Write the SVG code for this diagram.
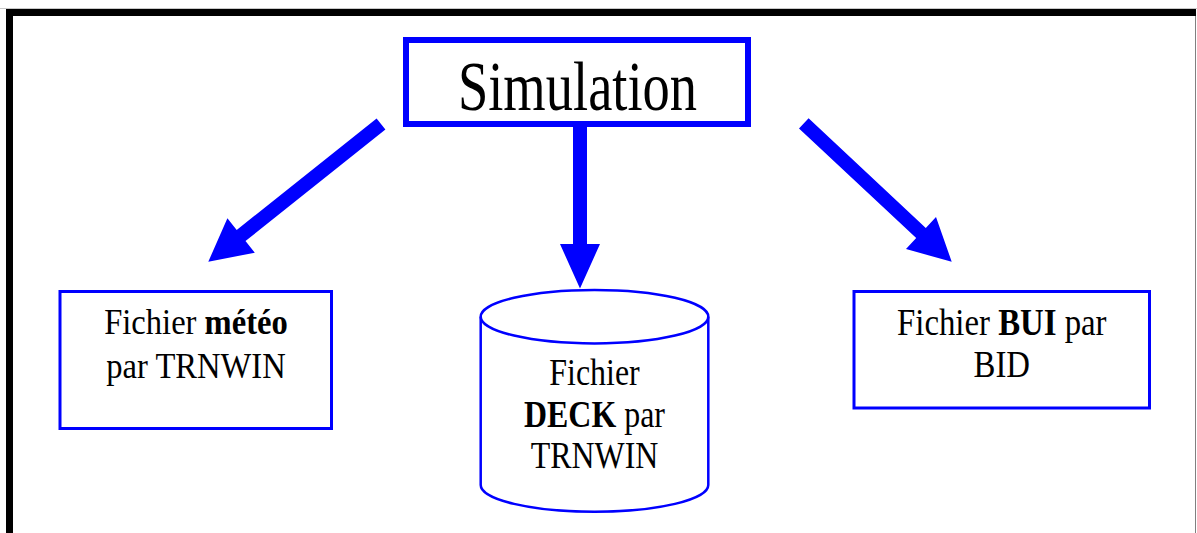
<svg xmlns="http://www.w3.org/2000/svg" width="1197" height="533" viewBox="0 0 1197 533">
<style>
.box{fill:#fff;stroke:#0000ff;stroke-width:3}
.arrow{fill:#0000ff;stroke:none}
text{font-family:"Liberation Serif","Times New Roman",serif;fill:#000;text-anchor:middle}
.b{font-weight:bold}
</style>
<rect width="1197" height="533" fill="#fff"/>
<g id="frame">
<line x1="0" y1="8.5" x2="1197" y2="8.5" stroke="#c8c8c8" stroke-width="1"/>
<path d="M9.5,533 V12.5 H1196" fill="none" stroke="#000" stroke-width="7"/>
<line x1="1195.5" y1="16" x2="1195.5" y2="533" stroke="#808080" stroke-width="1"/>
</g>
<g id="connectors">
<polygon class="arrow" points="376.6,118.5 385.4,129.5 245.5,241.0 254.8,252.7 208.3,261.7 227.4,218.3 236.7,230.0"/>
<polygon class="arrow" points="573,126 587,126 587,244 600,244 580,288.5 560,244 573,244"/>
<polygon class="arrow" points="808.6,118.2 799.0,128.4 916.2,238.1 906.0,249.1 951.7,261.7 936.0,216.9 925.8,227.9"/>
</g>
<g id="simulation">
<rect x="406" y="40" width="342" height="84" fill="#fff" stroke="#0000ff" stroke-width="6"/>
<text transform="translate(577.5,0) scale(0.79,1)" x="0" y="110.5" font-size="69">Simulation</text>
</g>
<g id="meteo">
<rect class="box" x="60" y="291.5" width="271.5" height="137"/>
<text transform="translate(196,0) scale(0.905,1)" font-size="36"><tspan x="0" y="334">Fichier <tspan class="b">météo</tspan></tspan><tspan x="0" y="378.3">par TRNWIN</tspan></text>
</g>
<g id="deck">
<path d="M480.7,316.7 V485 A113.8,26.7 0 0 0 708.3,485 V316.7" fill="#fff" stroke="#0000ff" stroke-width="2.5"/>
<ellipse cx="594.5" cy="316.7" rx="113.8" ry="26.7" fill="#fff" stroke="#0000ff" stroke-width="2.5"/>
<text transform="translate(594.5,0) scale(0.84,1)" font-size="38"><tspan x="0" y="385">Fichier</tspan><tspan x="0" y="426.7"><tspan class="b">DECK</tspan> par</tspan><tspan x="0" y="468.3">TRNWIN</tspan></text>
</g>
<g id="bui">
<rect class="box" x="854" y="291.5" width="295.5" height="116.5"/>
<text transform="translate(1001.8,0) scale(0.875,1)" font-size="37.5"><tspan x="0" y="335">Fichier <tspan class="b">BUI</tspan> par</tspan><tspan x="0" y="377.3">BID</tspan></text>
</g>
</svg>
